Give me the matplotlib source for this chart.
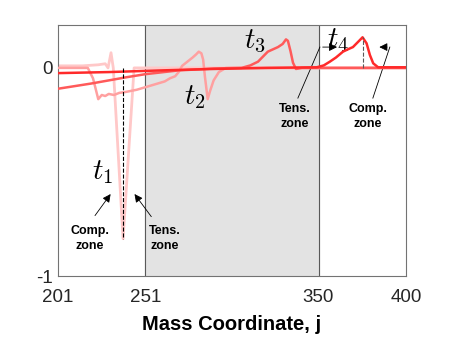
import matplotlib.pyplot as plt
import numpy as np

plt.rcParams["font.family"] = ["Liberation Sans", "DejaVu Sans"]
plt.rcParams["mathtext.fontset"] = "cm"

# profiles (mass coordinate j, normalised value)
t1_x = [201, 215, 224, 228, 229.6, 231.3, 232.6, 238.2, 244.5, 247, 400]
t1_y = [0.01, 0.01, 0.015, 0.02, 0.0, 0.073, 0.0, -0.82, 0.0, 0.0, 0.0]

t2_x = [201, 218, 221, 224, 226, 228, 230, 233, 236, 240, 243, 246, 250, 254, 258,
        262, 265, 268, 270, 272, 275, 278, 280, 281.5, 283, 284, 285, 286.6,
        288, 290, 293, 297, 400]
t2_y = [0.0, 0.0, -0.05, -0.15, -0.13, -0.135, -0.125, -0.13, -0.12, -0.115, -0.11,
        -0.105, -0.095, -0.085, -0.075, -0.065, -0.05, -0.04, -0.02, 0.01, 0.03,
        0.05, 0.065, 0.078, 0.07, 0.04, -0.04, -0.15, -0.11, -0.06, -0.02, 0.0, 0.0]

t3_x = [201, 220, 240, 251, 270, 290, 306, 311, 315.4, 321, 326.8, 329.5, 331.4,
        332.5, 334, 335.4, 337.1, 340.5, 400]
t3_y = [-0.10, -0.075, -0.045, -0.03, -0.012, -0.003, 0.0, 0.012, 0.03, 0.078, 0.10,
        0.115, 0.137, 0.13, 0.08, 0.025, -0.005, 0.0, 0.0]

t4_x = [201, 230, 260, 290, 320, 349, 353, 356.5, 360, 364, 367, 369.7, 373.7,
        375.2, 377.5, 379.4, 381.3, 384.1, 400]
t4_y = [-0.025, -0.02, -0.012, -0.005, 0.0, 0.003, 0.012, 0.03, 0.05, 0.078, 0.09,
        0.10, 0.134, 0.147, 0.118, 0.062, 0.022, 0.003, 0.003]

xticks = [201, 251, 350, 400]
yticks = [-1, 0]
region = (251, 350)
peak1 = (238.2, -0.82)
peak4 = (375.5, 0.147)

fig = plt.figure(figsize=(4.5, 3.38), dpi=100)
ax = fig.add_axes((0.129, 0.183, 0.773, 0.743))

ax.axvspan(region[0], region[1], color="#e3e3e3", zorder=0)
for xv in region:
    ax.axvline(xv, color="0.35", lw=0.8, zorder=1)

ax.plot(t1_x, t1_y, color="#ffc8c8", lw=2.0, zorder=2)
ax.plot(t2_x, t2_y, color="#ffa0a0", lw=1.8, zorder=3)
ax.plot(t3_x, t3_y, color="#ff5a5a", lw=1.8, zorder=4)
ax.plot(t4_x, t4_y, color="#ff2a2a", lw=1.8, zorder=5)

ax.plot([peak1[0], peak1[0]], [0, peak1[1]], ls="--", color="k", lw=0.8, zorder=6)
ax.plot([peak4[0], peak4[0]], [0, peak4[1]], ls="--", color="0.35", lw=0.8, zorder=6)

# time labels
ax.text(226.5, -0.50, "$t_1$", fontsize=21, ha="center", va="center")
ax.text(279.5, -0.14, "$t_2$", fontsize=21, ha="center", va="center")
ax.text(313.5, 0.13, "$t_3$", fontsize=21, ha="center", va="center")
ax.text(361, 0.135, "$t_4$", fontsize=21, ha="center", va="center")

zkw = dict(fontsize=9, fontweight="bold", ha="center", va="center", linespacing=1.3)
akw = dict(arrowstyle="-|>", color="k", lw=0.6, mutation_scale=12)

ax.text(219.3, -0.82, "Comp.\nzone", **zkw)
ax.annotate("", xy=(232.0, -0.595), xytext=(221.2, -0.72), arrowprops=akw)
ax.text(262.2, -0.82, "Tens.\nzone", **zkw)
ax.annotate("", xy=(243.8, -0.595), xytext=(255.3, -0.725), arrowprops=akw)

ax.text(336.5, -0.235, "Tens.\nzone", **zkw)
ax.plot([338.2, 350.8], [-0.145, 0.10], color="k", lw=0.6)
ax.annotate("", xy=(362.2, 0.10), xytext=(350.8, 0.10), arrowprops=akw)
ax.text(378.2, -0.235, "Comp.\nzone", **zkw)
ax.plot([381.1, 390.8], [-0.145, 0.10], color="k", lw=0.6)
ax.annotate("", xy=(383.2, 0.10), xytext=(390.8, 0.10), arrowprops=akw)

ax.set_xlim(201, 400)
ax.set_ylim(-1, 0.206)
ax.set_xticks(xticks)
ax.set_yticks(yticks)
ax.set_xticklabels([str(v) for v in xticks], fontsize=13.5, color="#262626")
ax.set_yticklabels([str(v) for v in yticks], fontsize=13.5, color="#262626")
ax.tick_params(direction="in", length=3, width=0.6, color="0.35")
ax.tick_params(axis="x", pad=9)
ax.tick_params(axis="y", pad=4)
for sp in ax.spines.values():
    sp.set_color("0.45")
    sp.set_linewidth(0.8)
ax.set_xlabel("Mass Coordinate, j", fontsize=14.5, fontweight="bold", labelpad=7)

fig.savefig("out.png", dpi=100)
